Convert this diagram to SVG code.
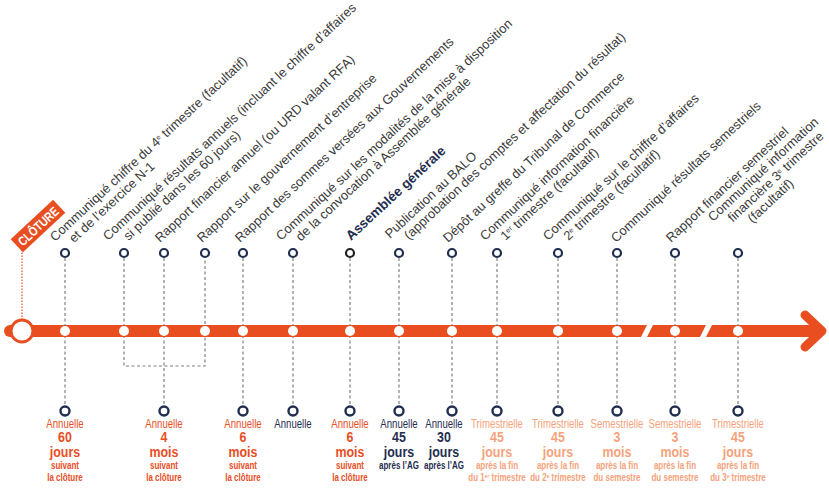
<svg xmlns="http://www.w3.org/2000/svg" width="829" height="493" viewBox="0 0 829 493">
<defs>
<style>
.lbl{font-family:"Liberation Sans Narrow","Liberation Sans",sans-serif;font-size:13px;fill:#3a3a3a}
.tc{fill:#fff;stroke:#1f2d4f;stroke-width:2.2}
.bc{fill:#fff;stroke:#1f2d4f;stroke-width:2.4}
.dash{stroke:#808080;stroke-width:1.2;stroke-dasharray:3,2.5;fill:none}
.dot{fill:#fff}
.b{font-family:"Liberation Sans Narrow","Liberation Sans",sans-serif;text-anchor:middle}
.k{font-size:12px}
.n{font-size:15.5px;font-weight:bold}
.s{font-size:10px;font-weight:bold}
.o{fill:#e84e1f}
.v{fill:#1f2d4f}
.l{fill:#f5a27c}
</style>
</defs>
<g id="connectors">
<path class="dash" d="M65 258V406M124 258V366H205V258M164 258V406M243 258V406M293 258V406M350 258V406M399 258V406M452 258V406M497 258V406M558 258V406M617 258V406M675 258V406M738 258V406"/>
<line x1="22" y1="320" x2="22" y2="240" stroke="#e84e1f" stroke-width="1.2" stroke-dasharray="1.5,1.5"/>
<path d="M19 242L22 235L25 242Z" fill="#e84e1f"/>
</g>
<g id="axis">
<rect x="4" y="325" width="812" height="12" rx="6" fill="#e84e1f"/>
<path d="M805 315L822 331L805 347" fill="none" stroke="#e84e1f" stroke-width="9" stroke-linecap="round" stroke-linejoin="round"/>
<path d="M648 323L654 323L646 339L640 339Z" fill="#fff"/>
<path d="M707 323L713 323L705 339L699 339Z" fill="#fff"/>
<circle cx="22" cy="331" r="11" fill="#fff" stroke="#e84e1f" stroke-width="3"/>
<g class="dot"><circle cx="65" cy="331" r="5"/><circle cx="124" cy="331" r="5"/><circle cx="164" cy="331" r="5"/><circle cx="205" cy="331" r="5"/><circle cx="243" cy="331" r="5"/><circle cx="293" cy="331" r="5"/><circle cx="350" cy="331" r="5"/><circle cx="399" cy="331" r="5"/><circle cx="452" cy="331" r="5"/><circle cx="497" cy="331" r="5"/><circle cx="558" cy="331" r="5"/><circle cx="617" cy="331" r="5"/><circle cx="675" cy="331" r="5"/><circle cx="738" cy="331" r="5"/></g>
</g>
<g id="cloture" transform="translate(38,226) rotate(-43)">
<rect x="-29" y="-9" width="58" height="18" fill="#e84e1f"/>
<text x="0" y="5" transform="scale(0.8,1)" text-anchor="middle" font-family="Liberation Sans Narrow,Liberation Sans,sans-serif" font-size="13" font-weight="bold" fill="#fff">CLÔTURE</text>
</g>
<g id="n1"><circle class="tc" cx="65" cy="253" r="4"/><text class="lbl" transform="translate(55,242) rotate(-43)">Communiqué chiffre du 4<tspan font-size="7" dy="-4">e</tspan><tspan dy="4"> trimestre (facultatif)</tspan><tspan x="13" y="14">et de l’exercice N-1</tspan></text>
<circle class="bc" cx="65" cy="411" r="4.5"/><text class="b o" transform="translate(65,0) scale(0.8,1)"><tspan class="k" x="0" y="428">Annuelle</tspan><tspan class="n" x="0" y="442">60</tspan><tspan class="n" x="0" y="457">jours</tspan><tspan class="s" x="0" y="469">suivant</tspan><tspan class="s" x="0" y="481">la clôture</tspan></text></g>
<g id="n2"><circle class="tc" cx="124" cy="253" r="4"/><text class="lbl" transform="translate(108,241) rotate(-43)">Communiqué résultats annuels (incluant le chiffre d’affaires<tspan x="15" y="14">si publié dans les 60 jours)</tspan></text></g>
<g id="n3"><circle class="tc" cx="164" cy="253" r="4"/><text class="lbl" transform="translate(160,243) rotate(-43)">Rapport financier annuel (ou URD valant RFA)</text>
<circle class="bc" cx="164" cy="411" r="4.5"/><text class="b o" transform="translate(164,0) scale(0.8,1)"><tspan class="k" x="0" y="428">Annuelle</tspan><tspan class="n" x="0" y="442">4</tspan><tspan class="n" x="0" y="457">mois</tspan><tspan class="s" x="0" y="469">suivant</tspan><tspan class="s" x="0" y="481">la clôture</tspan></text></g>
<g id="n4"><circle class="tc" cx="205" cy="253" r="4"/><text class="lbl" transform="translate(202,243) rotate(-43)">Rapport sur le gouvernement d’entreprise</text></g>
<g id="n5"><circle class="tc" cx="243" cy="253" r="4"/><text class="lbl" transform="translate(240,243) rotate(-43)">Rapport des sommes versées aux Gouvernements</text>
<circle class="bc" cx="243" cy="411" r="4.5"/><text class="b o" transform="translate(243,0) scale(0.8,1)"><tspan class="k" x="0" y="428">Annuelle</tspan><tspan class="n" x="0" y="442">6</tspan><tspan class="n" x="0" y="457">mois</tspan><tspan class="s" x="0" y="469">suivant</tspan><tspan class="s" x="0" y="481">la clôture</tspan></text></g>
<g id="n6"><circle class="tc" cx="293" cy="253" r="4"/><text class="lbl" transform="translate(281,241) rotate(-43)">Communiqué sur les modalités de la mise à disposition<tspan x="14" y="14">de la convocation à Assemblée générale</tspan></text>
<circle class="bc" cx="293" cy="411" r="4.5"/><text class="b v" transform="translate(293,0) scale(0.8,1)"><tspan class="k" x="0" y="428">Annuelle</tspan></text></g>
<g id="n7"><circle cx="350" cy="253" r="4" fill="#fff" stroke="#222" stroke-width="2.2"/><text class="lbl" transform="translate(351,241) rotate(-43)" style="fill:#1f2d4f;font-weight:bold;font-size:13.5px">Assemblée générale</text>
<circle class="bc" cx="350" cy="411" r="4.5"/><text class="b o" transform="translate(350,0) scale(0.8,1)"><tspan class="k" x="0" y="428">Annuelle</tspan><tspan class="n" x="0" y="442">6</tspan><tspan class="n" x="0" y="457">mois</tspan><tspan class="s" x="0" y="469">suivant</tspan><tspan class="s" x="0" y="481">la clôture</tspan></text></g>
<g id="n8"><circle class="tc" cx="399" cy="253" r="4"/><text class="lbl" transform="translate(390,239) rotate(-43)">Publication au BALO<tspan x="13" y="14">(approbation des comptes et affectation du résultat)</tspan></text>
<circle class="bc" cx="399" cy="411" r="4.5"/><text class="b v" transform="translate(399,0) scale(0.8,1)"><tspan class="k" x="0" y="428">Annuelle</tspan><tspan class="n" x="0" y="442">45</tspan><tspan class="n" x="0" y="457">jours</tspan><tspan class="s" x="0" y="469">après l’AG</tspan></text></g>
<g id="n9"><circle class="tc" cx="452" cy="253" r="4"/><text class="lbl" transform="translate(448,243) rotate(-43)">Dépôt au greffe du Tribunal de Commerce</text>
<circle class="bc" cx="452" cy="411" r="4.5"/><text class="b v" transform="translate(444,0) scale(0.8,1)"><tspan class="k" x="0" y="428">Annuelle</tspan><tspan class="n" x="0" y="442">30</tspan><tspan class="n" x="0" y="457">jours</tspan><tspan class="s" x="0" y="469">après l’AG</tspan></text></g>
<g id="n10"><circle class="tc" cx="497" cy="253" r="4"/><text class="lbl" transform="translate(485,241) rotate(-43)">Communiqué information financière<tspan x="15" y="14">1</tspan><tspan font-size="7" dy="-4">er</tspan><tspan dy="4"> trimestre (facultatif)</tspan></text>
<circle class="bc" cx="497" cy="411" r="4.5"/><text class="b l" transform="translate(497,0) scale(0.8,1)"><tspan class="k" x="0" y="428">Trimestrielle</tspan><tspan class="n" x="0" y="442">45</tspan><tspan class="n" x="0" y="457">jours</tspan><tspan class="s" x="0" y="469">après la fin</tspan><tspan class="s" x="0" y="481">du 1<tspan font-size="6" dy="-3">er</tspan><tspan dy="3"> trimestre</tspan></tspan></text></g>
<g id="n11"><circle class="tc" cx="558" cy="253" r="4"/><text class="lbl" transform="translate(548,241) rotate(-43)">Communiqué sur le chiffre d’affaires<tspan x="15" y="14">2</tspan><tspan font-size="7" dy="-4">e</tspan><tspan dy="4"> trimestre (facultatif)</tspan></text>
<circle class="bc" cx="558" cy="411" r="4.5"/><text class="b l" transform="translate(558,0) scale(0.8,1)"><tspan class="k" x="0" y="428">Trimestrielle</tspan><tspan class="n" x="0" y="442">45</tspan><tspan class="n" x="0" y="457">jours</tspan><tspan class="s" x="0" y="469">après la fin</tspan><tspan class="s" x="0" y="481">du 2<tspan font-size="6" dy="-3">e</tspan><tspan dy="3"> trimestre</tspan></tspan></text></g>
<g id="n12"><circle class="tc" cx="617" cy="253" r="4"/><text class="lbl" transform="translate(616,243) rotate(-43)">Communiqué résultats semestriels</text>
<circle class="bc" cx="617" cy="411" r="4.5"/><text class="b l" transform="translate(617,0) scale(0.8,1)"><tspan class="k" x="0" y="428">Semestrielle</tspan><tspan class="n" x="0" y="442">3</tspan><tspan class="n" x="0" y="457">mois</tspan><tspan class="s" x="0" y="469">après la fin</tspan><tspan class="s" x="0" y="481">du semestre</tspan></text></g>
<g id="n13"><circle class="tc" cx="675" cy="253" r="4"/><text class="lbl" transform="translate(671,243) rotate(-43)">Rapport financier semestriel</text>
<circle class="bc" cx="675" cy="411" r="4.5"/><text class="b l" transform="translate(675,0) scale(0.8,1)"><tspan class="k" x="0" y="428">Semestrielle</tspan><tspan class="n" x="0" y="442">3</tspan><tspan class="n" x="0" y="457">mois</tspan><tspan class="s" x="0" y="469">après la fin</tspan><tspan class="s" x="0" y="481">du semestre</tspan></text></g>
<g id="n14"><circle class="tc" cx="738" cy="253" r="4"/><text class="lbl" transform="translate(713,222) rotate(-43)">Communiqué information<tspan x="14" y="14">financière 3</tspan><tspan font-size="7" dy="-4">e</tspan><tspan dy="4"> trimestre</tspan><tspan x="28" y="28">(facultatif)</tspan></text>
<circle class="bc" cx="738" cy="411" r="4.5"/><text class="b l" transform="translate(738,0) scale(0.8,1)"><tspan class="k" x="0" y="428">Trimestrielle</tspan><tspan class="n" x="0" y="442">45</tspan><tspan class="n" x="0" y="457">jours</tspan><tspan class="s" x="0" y="469">après la fin</tspan><tspan class="s" x="0" y="481">du 3<tspan font-size="6" dy="-3">e</tspan><tspan dy="3"> trimestre</tspan></tspan></text></g>
</svg>
